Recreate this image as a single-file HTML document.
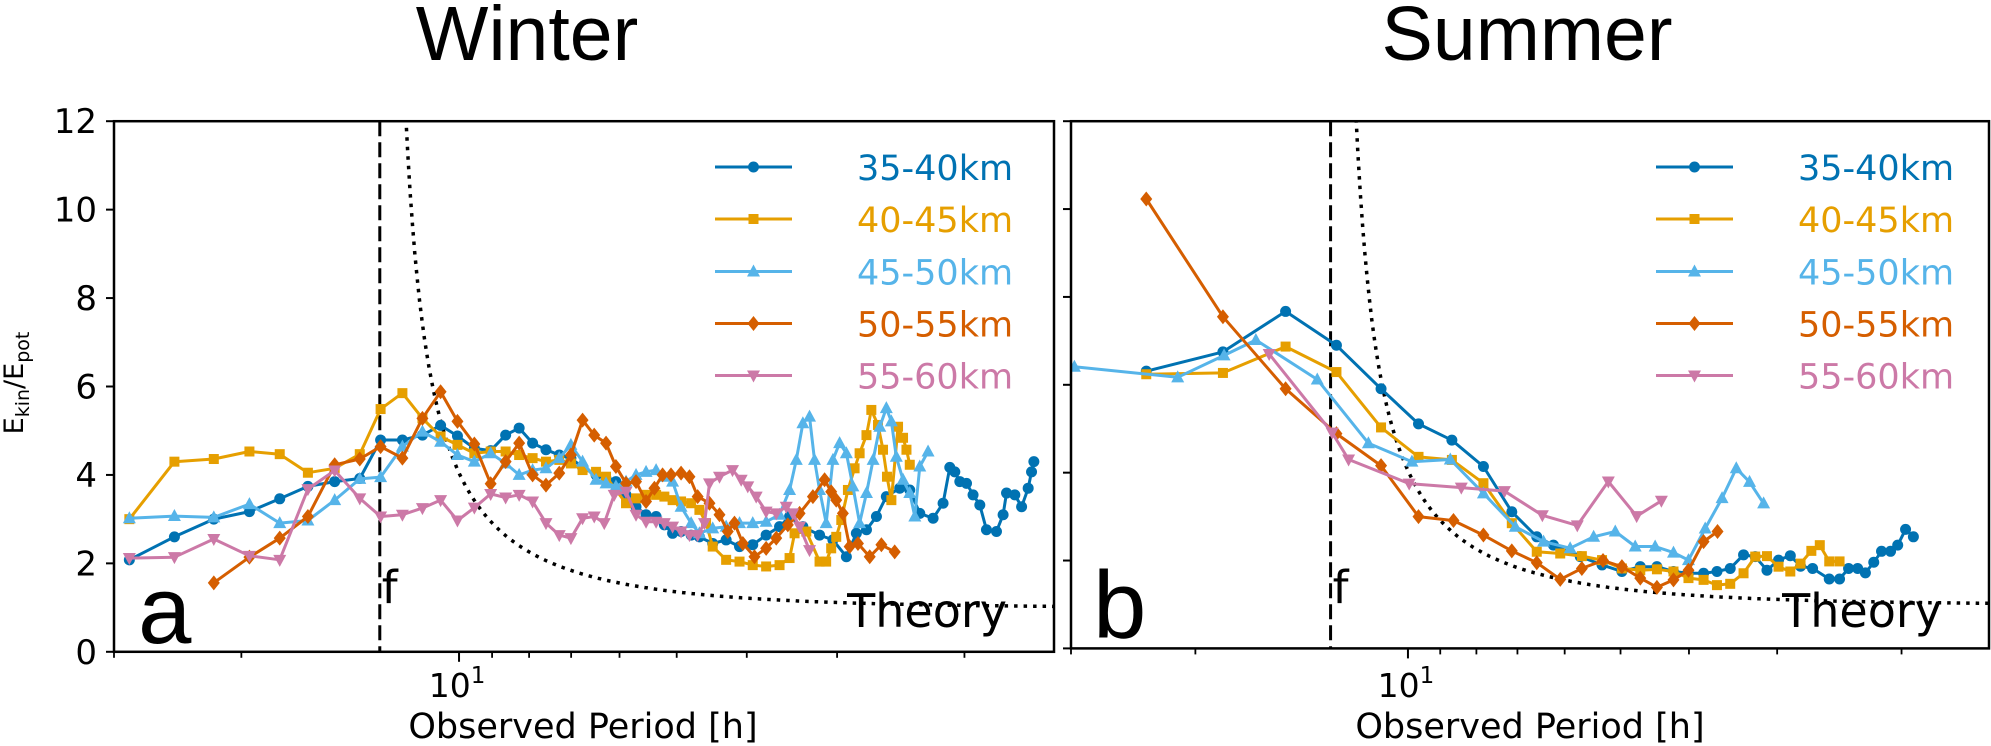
<!DOCTYPE html>
<html><head><meta charset="utf-8"><title>Ekin/Epot Winter Summer</title>
<style>html,body{margin:0;padding:0;background:#fff}svg{display:block}text{font-family:"DejaVu Sans","Liberation Sans",sans-serif}</style>
</head><body>
<svg id="fig" width="1991" height="746" viewBox="0 0 1991 746" xmlns="http://www.w3.org/2000/svg">
<defs>
<clipPath id="clipL"><rect x="114" y="121" width="940" height="531"/></clipPath>
<clipPath id="clipR"><rect x="1071" y="121" width="918" height="528"/></clipPath>
</defs>
<text x="527" y="60" text-anchor="middle" font-size="77" style="font-family:'Liberation Sans',sans-serif">Winter</text>
<text x="1527" y="60" text-anchor="middle" font-size="77" style="font-family:'Liberation Sans',sans-serif">Summer</text>
<text transform="translate(23,383) rotate(-90)" text-anchor="middle" font-size="27">E<tspan font-size="19" dy="6">kin</tspan><tspan dy="-6">/E</tspan><tspan font-size="19" dy="6">pot</tspan></text>
<g id="gL"></g>
<g id="gR"></g>
</svg>
<script>
// ---- data: period [h] and Ekin/Epot ----
const wBlueP=[3.50,4.04,4.58,5.13,5.65,6.18,6.73,7.29,7.79,8.35,8.90,9.43,9.95,10.5,11.06,11.6,12.11,12.64,13.19,13.76,14.28,14.82,15.47,15.97,16.48,17.02,17.57,18.14,18.73,19.23,19.74,20.28,20.94,21.50,22.43,23.41,24.43,25.48,26.59,27.75,28.65,29.89,31.52,32.89,34.33,35.44,36.60,37.78,38.99,40.69,42.01,43.37,45.25,46.71,47.72,48.49,49.27,50.33,51.39,52.51,53.63,55.37,56.55,57.17,58.70,59.98,61.25,61.91,62.37];
const wBlueV=[2.08,2.60,3.00,3.17,3.46,3.74,3.85,3.92,4.79,4.79,4.90,5.12,4.88,4.60,4.55,4.90,5.06,4.72,4.57,4.45,4.38,4.17,4.00,3.92,3.85,3.55,3.28,3.10,3.06,2.87,2.68,2.72,2.64,2.60,2.45,2.53,2.38,2.42,2.64,2.83,3.06,2.83,2.64,2.53,2.15,2.68,2.76,3.06,3.51,3.70,3.66,3.13,3.02,3.36,4.17,4.07,3.85,3.81,3.55,3.32,2.76,2.72,3.10,3.59,3.55,3.28,3.70,4.07,4.30];
const wYelP=[3.50,4.04,4.58,5.13,5.65,6.18,6.73,7.29,7.79,8.35,8.90,9.43,9.95,10.5,11.06,11.6,12.11,12.64,13.19,13.76,14.28,14.82,15.47,15.97,16.48,17.02,17.57,18.14,18.73,19.23,19.74,20.28,20.94,21.50,21.96,22.43,23.41,24.43,25.48,26.59,27.75,28.65,29.11,30.22,31.52,32.19,32.71,33.24,33.78,34.50,35.24,35.81,36.60,37.17,37.97,38.58,39.07,39.62,40.47,41.12,41.57,42.01];
const wYelV=[3.00,4.30,4.36,4.53,4.47,4.05,4.15,4.47,5.49,5.85,5.28,4.87,4.68,4.49,4.53,4.53,4.45,4.38,4.30,4.34,4.26,4.11,4.07,3.96,3.66,3.36,3.47,3.55,3.55,3.51,3.43,3.40,3.36,3.21,2.91,2.38,2.08,2.04,1.96,1.93,1.96,2.12,2.68,2.72,2.04,2.04,2.34,2.60,2.98,3.66,4.15,4.49,4.90,5.47,5.13,4.57,3.96,3.43,5.09,4.84,4.57,4.23];
const wSkyP=[3.50,4.04,4.58,5.13,5.65,6.18,6.73,7.29,7.79,8.35,8.90,9.43,9.95,10.5,11.06,11.6,12.11,12.64,13.19,13.76,14.28,14.82,15.47,15.97,16.48,17.02,17.57,18.14,18.73,19.23,19.74,20.28,20.94,21.50,22.43,23.41,24.43,25.48,26.59,27.75,28.65,29.27,29.89,30.53,31.02,31.52,32.19,32.89,33.60,34.33,35.05,35.81,36.60,37.38,38.19,38.99,39.62,40.25,41.12,42.01,42.69,43.37,44.53];
const wSkyV=[3.02,3.07,3.04,3.34,2.91,2.97,3.43,3.91,3.95,4.64,4.98,4.75,4.45,4.30,4.49,4.26,4.00,4.11,4.15,4.38,4.68,4.30,3.89,3.81,3.74,3.85,4.00,4.07,4.11,3.96,3.85,3.28,2.91,2.68,2.79,2.83,2.91,2.91,2.94,3.10,3.66,4.34,5.17,5.32,4.34,3.66,2.91,4.34,4.72,4.49,3.74,2.91,3.59,4.34,5.09,5.51,5.21,4.41,3.89,3.59,3.06,4.19,4.53];
const wRedP=[4.58,5.13,5.65,6.18,6.73,7.29,7.79,8.35,8.90,9.43,9.95,10.5,11.06,11.6,12.11,12.64,13.19,13.76,14.28,14.82,15.38,15.97,16.48,17.02,17.57,18.14,18.63,19.12,19.64,20.28,20.83,21.38,22.20,22.92,23.53,24.04,24.69,25.62,26.59,27.46,28.49,29.58,30.86,32.03,32.71,33.24,33.95,34.69,35.62,36.98,38.38,40.04];
const wRedV=[1.56,2.14,2.57,3.06,4.23,4.36,4.64,4.38,5.28,5.88,5.21,4.70,3.80,4.30,4.72,4.00,3.77,4.04,4.45,5.24,4.90,4.72,4.19,3.81,3.85,3.40,3.70,4.00,4.00,4.04,3.96,3.51,3.36,3.10,2.72,2.91,2.45,2.15,2.34,2.57,2.87,3.13,3.51,3.89,3.62,3.43,3.13,2.38,2.45,2.15,2.42,2.26];
const wPinkP=[3.50,4.04,4.58,5.13,5.65,6.18,6.73,7.29,7.79,8.35,8.90,9.43,9.95,10.5,11.06,11.6,12.11,12.64,13.19,13.76,14.28,14.82,15.38,15.88,16.39,17.02,17.57,18.14,18.73,19.23,19.74,20.28,20.83,21.38,21.85,22.20,22.92,23.89,24.56,25.08,25.76,26.59,27.46,28.35,28.95,29.58,30.53];
const wPinkV=[2.12,2.14,2.55,2.17,2.08,3.68,4.10,3.47,3.06,3.10,3.25,3.43,2.97,3.26,3.57,3.49,3.55,3.40,2.91,2.64,2.57,3.02,3.06,2.91,3.55,3.62,3.10,2.94,2.94,2.91,2.83,2.72,2.64,2.64,2.91,3.81,3.96,4.11,3.89,3.74,3.51,3.17,3.13,3.28,3.13,2.83,2.30];

const sBlueP=[4.26,5.47,6.71,7.92,9.16,10.35,11.54,12.79,14.03,15.22,16.07,17.54,18.83,20.09,21.33,22.52,23.77,24.96,26.22,27.39,28.60,29.87,31.03,32.24,33.48,34.79,35.97,37.41,39.50,40.85,42.07,43.33,44.44,45.67,46.84,48.24,49.38,50.66,51.97];
const sBlueV=[6.31,6.75,7.67,6.90,5.91,5.11,4.74,4.14,3.11,2.54,2.35,2.09,1.90,1.75,1.86,1.86,1.75,1.71,1.71,1.75,1.82,2.13,2.09,1.78,2.01,2.11,1.87,1.82,1.58,1.58,1.82,1.82,1.72,1.96,2.21,2.21,2.35,2.71,2.54];
const sYelP=[4.26,5.47,6.71,7.92,9.16,10.35,11.54,12.79,14.03,15.22,16.43,17.63,18.83,20.09,21.33,22.52,23.77,24.96,26.22,27.39,28.60,29.87,31.03,32.24,33.48,34.79,35.97,37.26,38.30,39.50,40.85];
const sYelV=[6.24,6.27,6.87,6.29,5.03,4.36,4.29,3.76,2.85,2.20,2.16,2.10,2.01,1.82,1.78,1.80,1.75,1.60,1.56,1.44,1.47,1.71,2.09,2.10,1.86,1.75,1.93,2.22,2.35,1.98,1.98];
const sSkyP=[3.37,4.72,5.49,6.09,7.44,8.79,10.13,11.48,12.79,14.19,15.56,16.97,18.32,19.66,20.98,22.39,23.77,24.96,26.36,27.85,29.17,30.46,31.89];
const sSkyV=[6.41,6.17,6.67,7.02,6.12,4.67,4.25,4.30,3.53,2.77,2.43,2.28,2.54,2.66,2.32,2.32,2.18,2.01,2.73,3.42,4.10,3.79,3.30];
const sRedP=[4.26,5.47,6.71,7.92,9.16,10.35,11.60,12.79,14.03,15.22,16.43,17.63,18.89,20.09,21.33,22.52,23.77,24.96,26.22,27.44];
const sRedV=[10.23,7.55,5.91,4.89,4.16,3.00,2.91,2.58,2.22,1.95,1.57,1.82,2.00,1.86,1.60,1.39,1.56,1.78,2.43,2.66];
const sPinkP=[6.36,7.81,8.24,10.04,11.90,13.70,15.50,17.37,19.22,21.08,22.85];
const sPinkV=[6.70,4.91,4.30,3.75,3.66,3.58,3.03,2.80,3.80,3.01,3.36];

const legendLabels=["35-40km","40-45km","45-50km","50-55km","55-60km"];
const yTicks=[0,2,4,6,8,10,12];
const minorTickPeriods=[3.333,5,11.11,12.5,14.29,16.67,20,25,33.33,50];
const inertialPeriod=7.77;

const colors=["#0072B2","#E69F00","#56B4E9","#D55E00","#CC79A7"];
const markers=["circle","square","tri-up","diamond","tri-down"];
const NS="http://www.w3.org/2000/svg";
const PMIN=3.333,PMAX=66.5;

function mk(tag,attrs,parent){const e=document.createElementNS(NS,tag);for(const k in attrs)e.setAttribute(k,attrs[k]);parent.appendChild(e);return e;}

function makeAxes(g,L,R,T,B,clip,showLabels,seriesP,seriesV,labelLetter,legX){
  const xs=p=>L+(Math.log10(p)-Math.log10(PMIN))/(Math.log10(PMAX)-Math.log10(PMIN))*(R-L);
  const ys=v=>B-v/12*(B-T);
  // theory curve
  let d="";let started=false;
  for(let i=0;i<=400;i++){const p=PMIN*Math.pow(PMAX/PMIN,i/400);if(p<=inertialPeriod*1.0005)continue;
    let v=(p*p+inertialPeriod*inertialPeriod)/(p*p-inertialPeriod*inertialPeriod);if(v>14)v=14;
    d+=(started?"L":"M")+xs(p).toFixed(1)+","+ys(v).toFixed(1);started=true;}
  const th=mk("path",{d:d,fill:"none",stroke:"#000","stroke-width":3.5,"stroke-dasharray":"3.5 6","clip-path":"url(#"+clip+")"},g);
  
  
  // f line
  const fl=mk("line",{x1:xs(inertialPeriod),x2:xs(inertialPeriod),y1:T,y2:B,stroke:"#000","stroke-width":3,"stroke-dasharray":"15 6"},g);
  
  
  // series
  for(let s=0;s<5;s++){
    const P=seriesP[s],V=seriesV[s];
    const sg=mk("g",{"clip-path":"url(#"+clip+")"},g);
    
    
    const pts=P.map((p,i)=>xs(p).toFixed(1)+","+ys(V[i]).toFixed(1)).join(" ");
    mk("polyline",{points:pts,fill:"none",stroke:colors[s],"stroke-width":3,"stroke-linejoin":"round"},sg);
    P.forEach((p,i)=>{const m=drawMarker(sg,markers[s],xs(p),ys(V[i]),colors[s]);
      
      });
  }
  // frame
  const fr=mk("rect",{x:L,y:T,width:R-L,height:B-T,fill:"none",stroke:"#000","stroke-width":2.5},g);
  
  
  // y ticks
  yTicks.forEach(v=>{
    const t=mk("line",{x1:L-8,x2:L,y1:ys(v),y2:ys(v),stroke:"#000","stroke-width":2},g);
    
    
    if(showLabels){const tl=mk("text",{x:L-17,y:ys(v)+12,"text-anchor":"end","font-size":34},g);tl.textContent=v;
      
      }
  });
  // x ticks
  minorTickPeriods.forEach(p=>{const t=mk("line",{x1:xs(p),x2:xs(p),y1:B,y2:B+6,stroke:"#000","stroke-width":1.8},g);
    
    });
  const mt=mk("line",{x1:xs(10),x2:xs(10),y1:B,y2:B+10,stroke:"#000","stroke-width":2},g);
  
  
  const ml=mk("text",{x:xs(10)-2,y:697,"text-anchor":"middle","font-size":33},g);
  ml.innerHTML='10<tspan font-size="23" dy="-14">1</tspan>';
  
  
  const xl=mk("text",{x:(L+R)/2-(showLabels?1:0),y:738,"text-anchor":"middle","font-size":35},g);
  xl.textContent="Observed Period [h]";
  
  
  // annotations
  const fT=mk("text",{x:xs(inertialPeriod)+2,y:603,"font-size":45},g);fT.textContent="f";
  
  
  const tT=mk("text",{x:R-47,y:627,"text-anchor":"end","font-size":46},g);tT.textContent="Theory";
  
  
  const pl=mk("text",{x:L+(showLabels?24:22),y:showLabels?643:638,"font-size":96,style:"font-family:'Liberation Sans',sans-serif"},g);pl.textContent=labelLetter;
  
  
  // legend
  const lg=mk("g",{},g);
  
  
  const ly=[167,219,271.5,323.5,375.5];
  for(let s=0;s<5;s++){
    const e=mk("g",{},lg);
    
    
    mk("line",{x1:legX,x2:legX+77,y1:ly[s],y2:ly[s],stroke:colors[s],"stroke-width":3},e);
    drawMarker(e,markers[s],legX+38.5,ly[s],colors[s]);
    const tx=mk("text",{x:legX+142,y:ly[s]+13,"font-size":35,fill:colors[s]},e);tx.textContent=legendLabels[s];
  }
}
function drawMarker(g,type,x,y,c){
  if(type==="circle")return mk("circle",{cx:x,cy:y,r:5.5,fill:c},g);
  if(type==="square")return mk("rect",{x:x-5,y:y-5,width:10,height:10,fill:c},g);
  if(type==="tri-up")return mk("polygon",{points:`${x},${y-7} ${x-6.5},${y+5} ${x+6.5},${y+5}`,fill:c},g);
  if(type==="tri-down")return mk("polygon",{points:`${x},${y+7} ${x-6.5},${y-5} ${x+6.5},${y-5}`,fill:c},g);
  return mk("polygon",{points:`${x},${y-7.5} ${x+6},${y} ${x},${y+7.5} ${x-6},${y}`,fill:c},g);
}
makeAxes(document.getElementById("gL"),114,1054,121.2,651.8,"clipL",true,
  [wBlueP,wYelP,wSkyP,wRedP,wPinkP],[wBlueV,wYelV,wSkyV,wRedV,wPinkV],"a",715);
makeAxes(document.getElementById("gR"),1071,1989,121.2,648.4,"clipR",false,
  [sBlueP,sYelP,sSkyP,sRedP,sPinkP],[sBlueV,sYelV,sSkyV,sRedV,sPinkV],"b",1656);
</script>
</body></html>
